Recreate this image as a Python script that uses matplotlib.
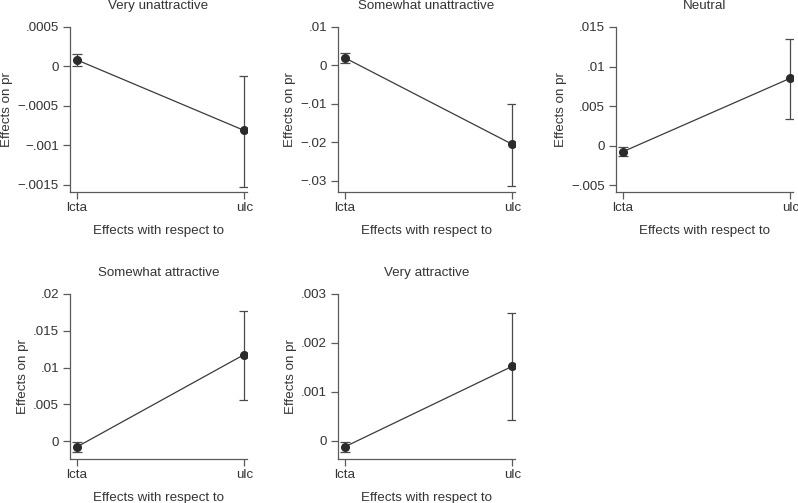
import numpy as np
import matplotlib.pyplot as plt

plt.rcParams['font.family'] = ['Liberation Sans', 'DejaVu Sans']

titles = ['Very unattractive', 'Somewhat unattractive', 'Neutral',
          'Somewhat attractive', 'Very attractive']
categories = ['lcta', 'ulc']

# point estimates and confidence bounds (lcta, ulc) per outcome
est = [[0.000084, -0.000811],
       [0.0020, -0.0205],
       [-0.00076, 0.00853],
       [-0.00081, 0.01177],
       [-0.000122, 0.001524]]
lower = [[0.0000084, -0.00153],
         [0.0007, -0.0314],
         [-0.00126, 0.00336],
         [-0.0015, 0.00554],
         [-0.000224, 0.000435]]
upper = [[0.00016, -0.000122],
         [0.0033, -0.0100],
         [-0.00017, 0.0135],
         [-0.00018, 0.0177],
         [-0.00002, 0.00262]]

yticks = [[0.0005, 0, -0.0005, -0.001, -0.0015],
          [0.01, 0, -0.01, -0.02, -0.03],
          [0.015, 0.01, 0.005, 0, -0.005],
          [0.02, 0.015, 0.01, 0.005, 0],
          [0.003, 0.002, 0.001, 0]]
ytick_labels = [['.0005', '0', '\u2212.0005', '\u2212.001', '\u2212.0015'],
                ['.01', '0', '\u2212.01', '\u2212.02', '\u2212.03'],
                ['.015', '.01', '.005', '0', '\u2212.005'],
                ['.02', '.015', '.01', '.005', '0'],
                ['.003', '.002', '.001', '0']]
ybottom = [-0.00159, -0.0329, -0.00584, -0.00244, -0.00037]

W, H = 798, 503
fig = plt.figure(figsize=(W / 100, H / 100), dpi=100)

# axes boxes in pixels: left, top, right, bottom
boxes = [(70, 27, 247, 192), (338, 27, 515, 192), (616, 27, 793, 192),
         (70, 294, 247, 459), (338, 294, 515, 459)]

spine_col = '#5a5a5a'
line_col = '#3a3a3a'
text_col = '#333333'
fs = 9.6

for i in range(5):
    l, t, r, b = boxes[i]
    ax = fig.add_axes([l / W, 1 - b / H, (r - l) / W, (b - t) / H])
    x = np.arange(1, 3)
    yerr = [np.array(est[i]) - np.array(lower[i]), np.array(upper[i]) - np.array(est[i])]
    ax.plot(x, est[i], color=line_col, lw=0.9)
    ax.errorbar(x, est[i], yerr=yerr, fmt='o', color='#2b2b2b', ecolor='#4a4a4a',
                elinewidth=0.9, capsize=3.5, capthick=0.9, markersize=5.5)
    ax.set_xlim(0.96, 2.016)
    ax.set_ylim(ybottom[i], yticks[i][0])
    ax.set_xticks(x)
    ax.set_xticklabels(categories)
    ax.set_yticks(yticks[i])
    ax.set_yticklabels(ytick_labels[i])
    for s in ['top', 'right']:
        ax.spines[s].set_visible(False)
    for s in ['left', 'bottom']:
        ax.spines[s].set_color(spine_col)
        ax.spines[s].set_linewidth(0.9)
    ax.tick_params(colors=spine_col, labelcolor=text_col, labelsize=fs, length=5, width=0.9)
    ax.tick_params(axis='x', pad=2)
    ax.tick_params(axis='y', pad=3)
    ax.set_title(titles[i], fontsize=fs, color=text_col, pad=13)
    ax.set_xlabel('Effects with respect to', fontsize=fs, color=text_col, labelpad=8)
    ax.set_ylabel('Effects on pr', fontsize=fs, color=text_col, labelpad=3)

fig.savefig('out.png', dpi=100)
